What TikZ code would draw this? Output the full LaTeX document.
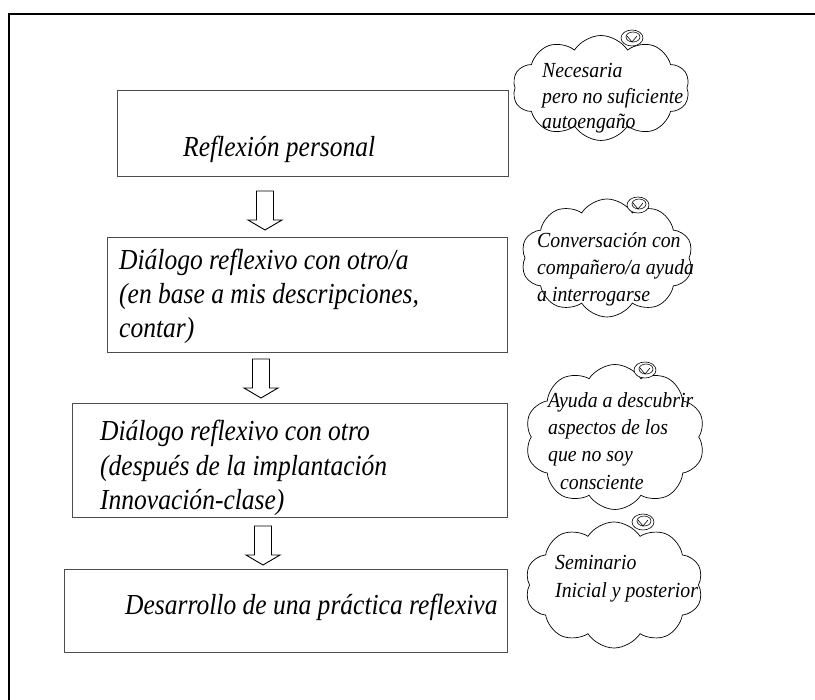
\documentclass[tikz,border=0pt]{standalone}
\usepackage{fontspec}
\setmainfont{Liberation Serif}
\newfontfamily\tallserif[FakeStretch=0.88]{Liberation Serif}
\newfontfamily\tallsmall[FakeStretch=0.92]{Liberation Serif}
\usetikzlibrary{shapes.symbols,calc}
\begin{document}
\begin{tikzpicture}[x=1pt,y=-1pt,
  box/.style={draw=black!70,line width=0.9pt,anchor=north west,inner sep=0pt},
  bigtxt/.style={anchor=base west,inner sep=0pt,font=\tallserif\fontsize{29}{33}\selectfont\itshape},
  smtxt/.style={anchor=base west,inner sep=0pt,font=\tallsmall\fontsize{21.5}{25}\selectfont\itshape},
  cloudsh/.style={cloud,draw,line width=0.7pt,cloud puffs=10,cloud puff arc=115,inner sep=0pt},
  blockarr/.style={draw=black,line width=0.9pt,fill=white},
  swirl/.style={draw,line width=0.6pt}
]
\useasboundingbox (0,0) rectangle (815,700);
% outer frame
\draw[line width=2pt] (9,700) -- (9,14) -- (815,14);

% boxes
\node[box,minimum width=391pt,minimum height=86pt] (b1) at (117,90) {};
\node[box,minimum width=400pt,minimum height=115pt] (b2) at (107,237) {};
\node[box,minimum width=435pt,minimum height=114pt] (b3) at (72,403) {};
\node[box,minimum width=443pt,minimum height=83pt] (b4) at (64,569) {};

% box texts
\node[bigtxt] (t1) at (183,157) {Reflexión personal};
\node[bigtxt] (t2a) at (119,270) {Diálogo reflexivo con otro/a};
\node[bigtxt] (t2b) at (119,304) {(en base a mis descripciones,};
\node[bigtxt] (t2c) at (119,338) {contar)};
\node[bigtxt] (t3a) at (100,441) {Diálogo reflexivo con otro};
\node[bigtxt] (t3b) at (100,476) {(después de la implantación};
\node[bigtxt] (t3c) at (100,510) {Innovación-clase)};
\node[bigtxt] (t4) at (125,615) {Desarrollo de una práctica reflexiva};

% block arrows
\coordinate (a1) at (265,191);
\coordinate (a2) at (261,359);
\coordinate (a3) at (263,526);
\foreach \c in {a1,a2,a3}{
  \draw[blockarr] (\c) ++(-8.5,0) -- ++(0,29) -- ++(-8.5,0) -- ++(17,10) -- ++(17,-10) -- ++(-8.5,0) -- ++(0,-29) -- cycle;
}

% clouds
\node[cloudsh,minimum width=177pt,minimum height=105pt] (c1) at (601,88) {};
\node[cloudsh,minimum width=172pt,minimum height=118pt] (c2) at (607,258) {};
\node[cloudsh,minimum width=180pt,minimum height=145pt] (c3) at (615,437) {};
\node[cloudsh,minimum width=178pt,minimum height=126pt] (c4) at (614,585) {};

% swirls
\foreach \x/\y in {632/38,638/205,645/370,643/522}{
  \draw[swirl,fill=white] (\x,\y) ellipse (11 and 8);
  \draw[swirl] (\x+1,\y-1) ellipse (7 and 5);
  \draw[swirl] (\x-5,\y-2) -- (\x,\y+4) -- (\x+5,\y-2);
}

% cloud texts
\node[smtxt] (s1a) at (542,78) {Necesaria};
\node[smtxt] (s1b) at (542,104) {pero no suficiente};
\node[smtxt] (s1c) at (542,129) {autoengaño};
\node[smtxt] (s2a) at (537,248) {Conversación con};
\node[smtxt] (s2b) at (537,275) {compañero/a ayuda};
\node[smtxt] (s2c) at (537,302) {a interrogarse};
\node[smtxt] (s3a) at (548,408) {Ayuda a descubrir};
\node[smtxt] (s3b) at (548,435) {aspectos de los};
\node[smtxt] (s3c) at (548,462) {que no soy};
\node[smtxt] (s3d) at (560,490) {consciente};
\node[smtxt] (s4a) at (555,570) {Seminario};
\node[smtxt] (s4b) at (555,598) {Inicial y posterior};
\end{tikzpicture}
\end{document}
